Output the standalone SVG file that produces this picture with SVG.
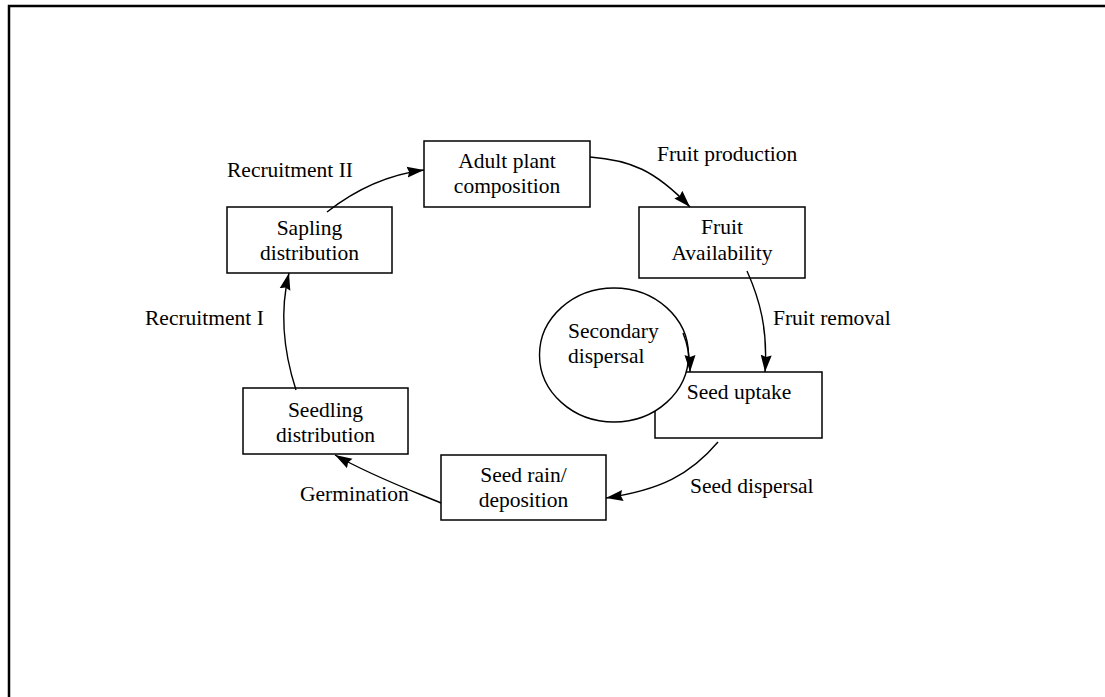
<svg xmlns="http://www.w3.org/2000/svg" width="1105" height="697" viewBox="0 0 1105 697">
<style>
.box{fill:#fff;stroke:#000;stroke-width:1.5}
.t{font-family:"Liberation Serif","Times New Roman",serif;font-size:21.5px;fill:#000}
.c{text-anchor:middle}
.con{fill:none;stroke:#000;stroke-width:1.4}
</style>
<defs>
<marker id="ah" markerUnits="userSpaceOnUse" markerWidth="18" markerHeight="14" viewBox="0 0 18 14" refX="17" refY="7" orient="auto">
<path d="M0,1.5 L17,7 L0,12.5 L2,7 z" fill="#000"/>
</marker>
</defs>
<rect width="1105" height="697" fill="#fff"/>
<g id="frame"><path d="M9,697 V6 H1105" fill="none" stroke="#000" stroke-width="2.5"/></g>

<g id="adult"><rect class="box" x="424" y="141" width="166" height="66"/>
<text class="t c" x="507" y="168">Adult plant</text><text class="t c" x="507" y="193">composition</text></g>
<g id="fruit"><rect class="box" x="639" y="207" width="166" height="71"/>
<text class="t c" x="722" y="234">Fruit</text><text class="t c" x="722" y="260">Availability</text></g>
<g id="sapling"><rect class="box" x="227" y="207" width="165" height="66"/>
<text class="t c" x="309.5" y="235">Sapling</text><text class="t c" x="309.5" y="260">distribution</text></g>
<g id="seedling"><rect class="box" x="243" y="388" width="165" height="66"/>
<text class="t c" x="325.5" y="417">Seedling</text><text class="t c" x="325.5" y="442">distribution</text></g>
<g id="seedrain"><rect class="box" x="441" y="455" width="165" height="65"/>
<text class="t c" x="523.5" y="482">Seed rain/</text><text class="t c" x="523.5" y="507">deposition</text></g>
<g id="uptake"><rect class="box" x="655" y="372" width="167" height="66"/></g>
<g id="secondary"><ellipse cx="614" cy="355" rx="74.5" ry="67" fill="#fff" stroke="#000" stroke-width="1.4"/>
<text class="t" x="568" y="338">Secondary</text><text class="t" x="568" y="363">dispersal</text></g>
<g id="uptake-label"><text class="t c" x="739" y="399">Seed uptake</text></g>

<g id="connectors">
<path class="con" d="M590,157 C630,160 655,170 690,207" marker-end="url(#ah)"/>
<path class="con" d="M327,212 C355,190 385,175 424,170" marker-end="url(#ah)"/>
<path class="con" d="M296,390 C283,350 280,310 289,273" marker-end="url(#ah)"/>
<path class="con" d="M441,503 C410,490 370,475 335,455" marker-end="url(#ah)"/>
<path class="con" d="M718,442 C690,475 660,490 606,498" marker-end="url(#ah)"/>
<path class="con" d="M747,271 C760,300 768,330 765,372" marker-end="url(#ah)"/>
<path class="con" d="M683,333 C688,345 690,355 690,372" marker-end="url(#ah)"/>
</g>

<g id="labels">
<text class="t" x="657" y="161">Fruit production</text>
<text class="t" x="227" y="177">Recruitment II</text>
<text class="t" x="145" y="325">Recruitment I</text>
<text class="t" x="773" y="325">Fruit removal</text>
<text class="t" x="690" y="493">Seed dispersal</text>
<text class="t" x="300" y="501">Germination</text>
</g>
</svg>
